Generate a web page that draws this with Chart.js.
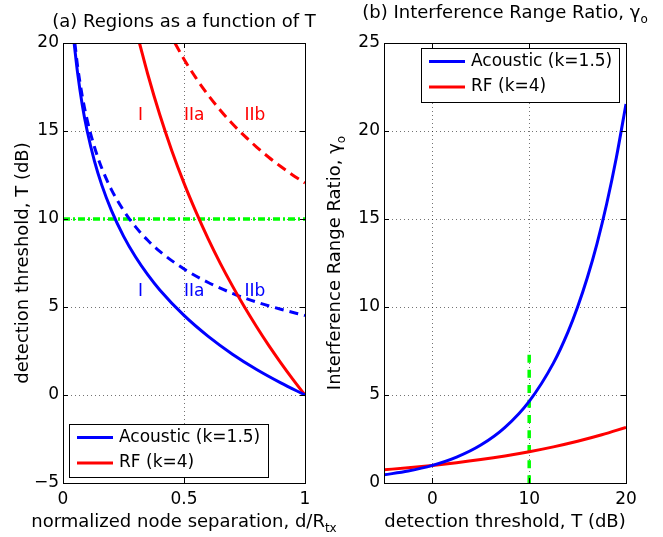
<!DOCTYPE html>
<html>
<head>
<meta charset="utf-8">
<script src="https://cdn.jsdelivr.net/npm/chart.js@4.4.0/dist/chart.umd.min.js"></script>
<style>
  body { margin: 0; background: #fff; }
  .wrap { position: relative; width: 663px; height: 537px; }
  canvas { position: absolute; left: 0; top: 0; }
</style>
</head>
<body>
<div class="wrap">
  <canvas id="left" width="663" height="537"></canvas>
  <canvas id="right" width="663" height="537"></canvas>
</div>
<script>
// (a) regions: normalized separation d/Rtx vs threshold T (dB)
const acousticD = [0.046, 0.06, 0.08, 0.1, 0.13, 0.16, 0.2, 0.25, 0.3, 0.35, 0.4, 0.5, 0.6, 0.7, 0.8, 0.9, 1.0];
const acousticT = [20, 18.33, 16.45, 15, 13.29, 11.94, 10.49, 9.03, 7.84, 6.84, 5.97, 4.52, 3.33, 2.32, 1.45, 0.69, 0];
const acousticDashD = [0.049, 0.06, 0.08, 0.1, 0.13, 0.16, 0.2, 0.25, 0.3, 0.35, 0.4, 0.5, 0.6, 0.7, 0.8, 0.9, 1.0];
const acousticDashT = [20, 18.71, 16.95, 15.62, 14.09, 12.9, 11.67, 10.49, 9.55, 8.79, 8.16, 7.16, 6.39, 5.78, 5.28, 4.87, 4.52];
const rfD = [0.316, 0.35, 0.4, 0.45, 0.5, 0.55, 0.6, 0.65, 0.7, 0.75, 0.8, 0.85, 0.9, 0.95, 1.0];
const rfT = [20, 18.24, 15.92, 13.87, 12.04, 10.39, 8.87, 7.48, 6.2, 5.0, 3.88, 2.82, 1.83, 0.89, 0];
const rfDashD = [0.4625, 0.5, 0.55, 0.6, 0.65, 0.7, 0.75, 0.8, 0.85, 0.9, 0.95, 1.0];
const rfDashT = [20, 19.08, 18.0, 17.04, 16.18, 15.41, 14.72, 14.09, 13.51, 12.98, 12.49, 12.04];
const thresholdD = [0, 1];
const thresholdT = [10, 10];

// region labels
const regionLabels = ["I", "IIa", "IIb"];
const regionD = [0.31, 0.5, 0.75];
const rfLabelT = 15.9;
const acousticLabelT = 5.9;

// (b) interference range ratio vs threshold
const acousticTb = [-5, -2.5, 0, 2.5, 5, 7.5, 10, 12.5, 14, 15, 16, 17, 18, 19, 20];
const acousticGamma = [0.464, 0.681, 1, 1.468, 2.154, 3.162, 4.642, 6.813, 8.577, 10, 11.66, 13.59, 15.85, 18.48, 21.54];
const rfTb = [-5, -2.5, 0, 2.5, 5, 7.5, 10, 12.5, 15, 17.5, 20];
const rfGamma = [0.75, 0.866, 1, 1.155, 1.334, 1.54, 1.778, 2.054, 2.371, 2.738, 3.162];
const markerT = [10, 10];
const markerGamma = [0, 7.3];

// tick labels
const leftXTicks = [0, 0.5, 1];
const leftYTicks = [-5, 0, 5, 10, 15, 20];
const rightXTicks = [0, 10, 20];
const rightYTicks = [0, 5, 10, 15, 20, 25];

const legendNames = ["Acoustic (k=1.5)", "RF (k=4)"];

const BLUE = "#0000ff";
const RED = "#ff0000";
const GREEN = "#00ff00";
const FONT = "DejaVu Sans";

Chart.defaults.font.family = FONT;
Chart.defaults.font.size = 17;
Chart.defaults.color = "#000";

function pts(xs, ys) {
  return xs.map((x, i) => ({ x: x, y: ys[i] }));
}

function line(xs, ys, color, dash, width) {
  return {
    data: pts(xs, ys),
    borderColor: color,
    borderWidth: width || 3,
    borderDash: dash || [],
    pointRadius: 0,
    cubicInterpolationMode: "monotone",
    fill: false,
  };
}

function axis(min, max, ticks, size, isY) {
  return {
    type: "linear",
    min: min,
    max: max,
    afterBuildTicks: (s) => { s.ticks = ticks.map((v) => ({ value: v })); },
    afterFit: (s) => { if (isY) s.width = size; else s.height = size; },
    ticks: {
      padding: isY ? 4 : 6,
      font: { size: 17 },
      color: "#000",
      callback: (v) => String(v).replace("-", "\u2212"),
    },
    grid: { color: "rgba(0,0,0,0.55)", lineWidth: 1, drawTicks: false },
    border: { display: false, dash: [1, 3] },
  };
}

// text with a subscript, centred on cx, baseline y (in current transform)
function subText(ctx, main, sub, cx, y) {
  ctx.font = "18px " + FONT;
  const w1 = ctx.measureText(main).width;
  ctx.font = "12px " + FONT;
  const w2 = sub ? ctx.measureText(sub).width : 0;
  const x0 = cx - (w1 + w2) / 2;
  ctx.textAlign = "left";
  ctx.textBaseline = "alphabetic";
  ctx.font = "18px " + FONT;
  ctx.fillText(main, x0, y);
  if (sub) {
    ctx.font = "12px " + FONT;
    ctx.fillText(sub, x0 + w1, y + 5);
  }
}

function decorPlugin(cfg) {
  return {
    id: "decor",
    afterDatasetsDraw(chart) {
      const ctx = chart.ctx;
      const a = chart.chartArea;
      const sx = chart.scales.x, sy = chart.scales.y;
      ctx.save();
      ctx.strokeStyle = "#000";
      ctx.lineWidth = 1;
      ctx.setLineDash([]);
      ctx.beginPath();
      sx.ticks.forEach((t) => {
        const px = Math.round(sx.getPixelForValue(t.value)) + 0.5;
        ctx.moveTo(px, a.bottom); ctx.lineTo(px, a.bottom - 5);
        ctx.moveTo(px, a.top); ctx.lineTo(px, a.top + 5);
      });
      sy.ticks.forEach((t) => {
        const py = Math.round(sy.getPixelForValue(t.value)) + 0.5;
        ctx.moveTo(a.left, py); ctx.lineTo(a.left + 5, py);
        ctx.moveTo(a.right, py); ctx.lineTo(a.right - 5, py);
      });
      ctx.stroke();
      ctx.strokeRect(Math.round(a.left) + 0.5, Math.round(a.top) + 0.5,
        Math.round(a.right - a.left), Math.round(a.bottom - a.top));
      ctx.restore();
    },
    afterDraw(chart) {
      const ctx = chart.ctx;
      const a = chart.chartArea;
      const sx = chart.scales.x, sy = chart.scales.y;
      const cx = (a.left + a.right) / 2;
      const cy = (a.top + a.bottom) / 2;
      ctx.save();
      ctx.fillStyle = "#000";
      // title and axis titles
      subText(ctx, cfg.title[0], cfg.title[1], cx, cfg.titleY);
      subText(ctx, cfg.xTitle[0], cfg.xTitle[1], cx, 527);
      ctx.save();
      ctx.translate(cfg.yTitleX, cy);
      ctx.rotate(-Math.PI / 2);
      subText(ctx, cfg.yTitle[0], cfg.yTitle[1], 0, 0);
      ctx.restore();

      // region labels
      if (cfg.regions) {
        ctx.font = "17px " + FONT;
        ctx.textAlign = "left";
        ctx.textBaseline = "middle";
        regionLabels.forEach((lab, i) => {
          const px = sx.getPixelForValue(regionD[i]);
          ctx.fillStyle = RED;
          ctx.fillText(lab, px, sy.getPixelForValue(rfLabelT));
          ctx.fillStyle = BLUE;
          ctx.fillText(lab, px, sy.getPixelForValue(acousticLabelT));
        });
      }

      // legend box
      const L = cfg.legend;
      ctx.fillStyle = "#fff";
      ctx.fillRect(L.x, L.y, L.w, L.h);
      ctx.strokeStyle = "#000";
      ctx.lineWidth = 1;
      ctx.setLineDash([]);
      ctx.strokeRect(L.x + 0.5, L.y + 0.5, L.w, L.h);
      ctx.font = "17px " + FONT;
      ctx.textAlign = "left";
      ctx.textBaseline = "middle";
      [BLUE, RED].forEach((c, i) => {
        const y = L.y + 13.5 + i * 25.5;
        ctx.strokeStyle = c;
        ctx.lineWidth = 3;
        ctx.beginPath();
        ctx.moveTo(L.x + 8, y);
        ctx.lineTo(L.x + 44, y);
        ctx.stroke();
        ctx.fillStyle = "#000";
        ctx.fillText(legendNames[i], L.x + 50, y);
      });
      ctx.restore();
    },
  };
}

// left panel (a)
new Chart(document.getElementById("left"), {
  type: "line",
  data: {
    datasets: [
      line(acousticD, acousticT, BLUE),
      line(rfD, rfT, RED),
      line(acousticDashD, acousticDashT, BLUE, [9, 6]),
      line(rfDashD, rfDashT, RED, [10, 6]),
      line(thresholdD, thresholdT, GREEN, [7, 3, 2, 3], 3.5),
    ],
  },
  options: {
    responsive: false,
    animation: false,
    layout: { padding: { left: 0, top: 43, right: 358, bottom: 0 } },
    plugins: { legend: { display: false }, tooltip: { enabled: false } },
    scales: {
      x: axis(0, 1, leftXTicks, 54, false),
      y: axis(-5, 20, leftYTicks, 63, true),
    },
  },
  plugins: [decorPlugin({
    title: ["(a) Regions as a function of T", ""],
    titleY: 27,
    xTitle: ["normalized node separation, d/R", "tx"],
    yTitle: ["detection threshold, T (dB)", ""],
    yTitleX: 28,
    regions: true,
    legend: { x: 69, y: 424, w: 199, h: 53 },
  })],
});

// right panel (b)
new Chart(document.getElementById("right"), {
  type: "line",
  data: {
    datasets: [
      line(acousticTb, acousticGamma, BLUE),
      line(rfTb, rfGamma, RED),
      line(markerT, markerGamma, GREEN, [8, 7], 3.5),
    ],
  },
  options: {
    responsive: false,
    animation: false,
    layout: { padding: { left: 330, top: 43, right: 37, bottom: 0 } },
    plugins: { legend: { display: false }, tooltip: { enabled: false } },
    scales: {
      x: axis(-5, 20, rightXTicks, 54, false),
      y: axis(0, 25, rightYTicks, 54, true),
    },
  },
  plugins: [decorPlugin({
    title: ["(b) Interference Range Ratio, \u03b3", "o"],
    titleY: 18,
    xTitle: ["detection threshold, T (dB)", ""],
    yTitle: ["Interference Range Ratio, \u03b3", "o"],
    yTitleX: 340,
    regions: false,
    legend: { x: 421, y: 48, w: 198, h: 54 },
  })],
});
</script>
</body>
</html>
